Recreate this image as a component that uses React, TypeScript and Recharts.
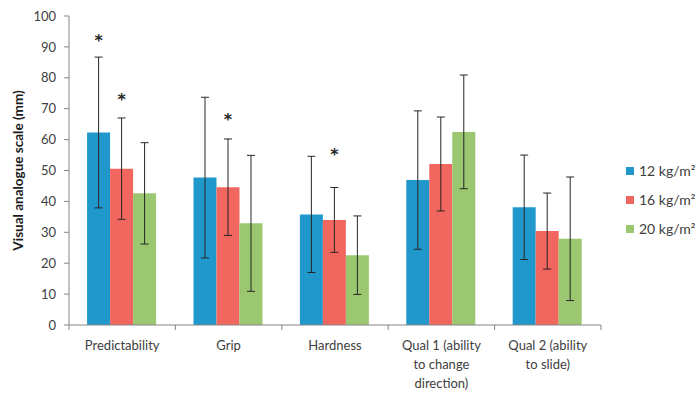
import { Bar, BarChart, ErrorBar, LabelList, Legend, XAxis, YAxis } from 'recharts';

// categories (line breaks as in the original axis labels)
const categories = [
    'Predictability',
    'Grip',
    'Hardness',
    'Qual 1 (ability\nto change\ndirection)',
    'Qual 2 (ability\nto slide)',
];

const seriesNames = ['12 kg/m²', '16 kg/m²', '20 kg/m²'];
const seriesColors = ['#2198cc', '#f1665f', '#9bc770'];

// mean VAS (mm)
const kg12 = [62.3, 47.7, 35.8, 46.9, 38.1];
const kg16 = [50.6, 44.6, 34.0, 52.1, 30.4];
const kg20 = [42.6, 32.9, 22.6, 62.5, 27.9];

// standard deviations
const sd12 = [24.4, 26.0, 18.8, 22.4, 16.9];
const sd16 = [16.4, 15.6, 10.5, 15.2, 12.3];
const sd20 = [16.4, 22.0, 12.7, 18.4, 20.0];

// where the significance asterisks sit (in mm on the y scale)
const star12 = [93.3, null, null, null, null];
const star16 = [74.2, 67.6, 56.3, null, null];

const yTicks = [0, 10, 20, 30, 40, 50, 60, 70, 80, 90, 100];

const data = categories.map((name, i) => ({
    name,
    s12: kg12[i],
    s16: kg16[i],
    s20: kg20[i],
    e12: sd12[i],
    e16: sd16[i],
    e20: sd20[i],
    st12: star12[i],
    st16: star16[i],
}));

const AXIS = '#868686';
const TEXT = '#404040';

function XTick(props: any) {
    const { x, y, payload, index, visibleTicksCount } = props;
    const half = payload.offset ?? 53;
    const lines = String(payload.value).split('\n');
    return (
        <g>
            <line x1={x - half} x2={x - half} y1={y} y2={y + 5} stroke={AXIS} />
            {index === visibleTicksCount - 1 && (
                <line x1={x + half} x2={x + half} y1={y} y2={y + 5} stroke={AXIS} />
            )}
            <text x={x} y={y + 25} textAnchor="middle" fill={TEXT} fontSize={13}>
                {lines.map((l, k) => (
                    <tspan key={k} x={x} dy={k === 0 ? 0 : 19}>
                        {l}
                    </tspan>
                ))}
            </text>
        </g>
    );
}

// draws "*" at the starred value, using the bar's own px-per-mm
const starLabel = (key: 'st12' | 'st16', valKey: 's12' | 's16') => (props: any) => {
    const { x, y, width, height, index } = props;
    const row = data[index];
    const star = row[key];
    if (star == null) return null;
    const perUnit = height / row[valKey];
    const sy = y + height - star * perUnit;
    return (
        <text
            x={x + width / 2}
            y={sy + 9}
            textAnchor="middle"
            fontSize={16}
            fontWeight="bold"
            fontFamily="DejaVu Sans"
            fill="#262626"
        >
            *
        </text>
    );
};

function LegendBox() {
    return (
        <div style={{ width: 75, paddingLeft: 25, boxSizing: 'border-box' }}>
            {seriesNames.map((n, i) => (
                <div
                    key={n}
                    style={{
                        display: 'flex',
                        alignItems: 'center',
                        height: 29,
                        fontSize: 14,
                        color: TEXT,
                        whiteSpace: 'nowrap',
                    }}
                >
                    <span
                        style={{
                            width: 8,
                            height: 8,
                            flex: '0 0 8px',
                            background: seriesColors[i],
                            marginRight: 5,
                        }}
                    />
                    {n}
                </div>
            ))}
        </div>
    );
}

export default function App() {
    return (
        <div style={{ position: 'absolute', left: 0, top: 0, fontFamily: 'Lato, sans-serif' }}>
            <BarChart
                width={699}
                height={393}
                data={data}
                margin={{ top: 16, right: 23, left: 0, bottom: 0 }}
                barGap={0}
                barCategoryGap="17%"
            >
                <XAxis
                    dataKey="name"
                    height={68}
                    interval={0}
                    tickLine={false}
                    tickSize={0}
                    tickMargin={0}
                    axisLine={{ stroke: AXIS }}
                    tick={<XTick />}
                />
                <YAxis
                    width={69}
                    domain={[0, 100]}
                    ticks={yTicks}
                    interval={0}
                    tickSize={5}
                    tickMargin={8}
                    axisLine={{ stroke: AXIS }}
                    tickLine={{ stroke: AXIS }}
                    tick={{ fill: TEXT, fontSize: 13 }}
                    label={{
                        content: (p: any) => {
                            const vb = p.viewBox;
                            const cy = vb.y + vb.height / 2;
                            return (
                                <text
                                    x={18}
                                    y={cy}
                                    transform={`rotate(-90, 18, ${cy})`}
                                    textAnchor="middle"
                                    dominantBaseline="central"
                                    fontSize={13.5}
                                    fontWeight="bold"
                                    fill="#1a1a1a"
                                >
                                    Visual analogue scale (mm)
                                </text>
                            );
                        },
                    }}
                />
                <Legend
                    layout="vertical"
                    align="right"
                    verticalAlign="middle"
                    wrapperStyle={{ top: 156 }}
                    content={<LegendBox />}
                />
                <Bar dataKey="s12" name={seriesNames[0]} fill={seriesColors[0]} isAnimationActive={false}>
                    <ErrorBar dataKey="e12" width={4} stroke="#262626" strokeWidth={1} />
                    <LabelList content={starLabel('st12', 's12')} />
                </Bar>
                <Bar dataKey="s16" name={seriesNames[1]} fill={seriesColors[1]} isAnimationActive={false}>
                    <ErrorBar dataKey="e16" width={4} stroke="#262626" strokeWidth={1} />
                    <LabelList content={starLabel('st16', 's16')} />
                </Bar>
                <Bar dataKey="s20" name={seriesNames[2]} fill={seriesColors[2]} isAnimationActive={false}>
                    <ErrorBar dataKey="e20" width={4} stroke="#262626" strokeWidth={1} />
                </Bar>
            </BarChart>
        </div>
    );
}
